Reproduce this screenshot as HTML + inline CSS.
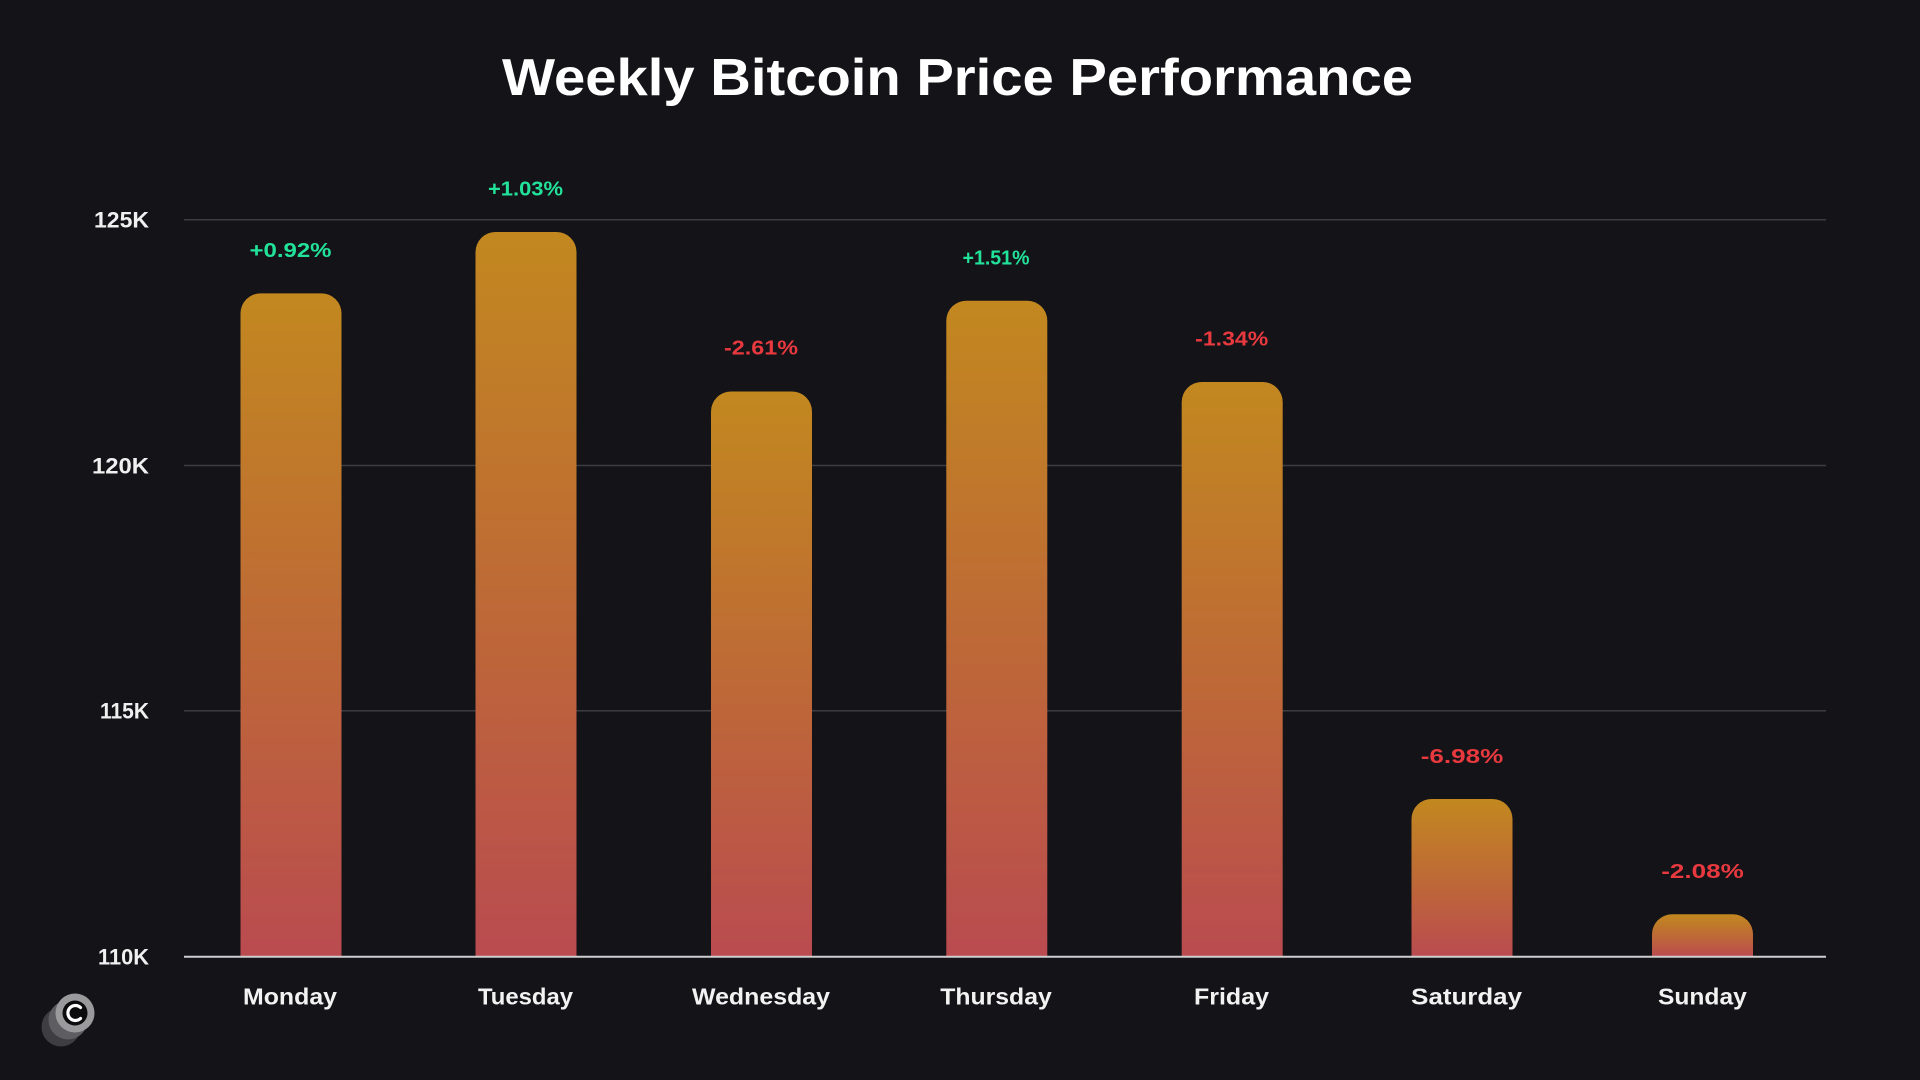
<!DOCTYPE html>
<html>
<head>
<meta charset="utf-8">
<style>
html,body{margin:0;padding:0;background:#131318;}
body{width:1920px;height:1080px;overflow:hidden;}
svg{display:block;}
text{font-family:"Liberation Sans",sans-serif;}
</style>
</head>
<body>
<svg width="1920" height="1080" viewBox="0 0 1920 1080" xmlns="http://www.w3.org/2000/svg">
<defs>
<linearGradient id="g" x1="0" y1="0" x2="0" y2="1">
<stop offset="0" stop-color="#C2881F"/>
<stop offset="0.5" stop-color="#BE6A36"/>
<stop offset="1" stop-color="#BA4B50"/>
</linearGradient>
</defs>
<rect width="1920" height="1080" fill="#131318"/>

<!-- Title -->
<text x="957.5" y="95" font-size="52" font-weight="bold" fill="#ffffff" text-anchor="middle" textLength="911" lengthAdjust="spacingAndGlyphs">Weekly Bitcoin Price Performance</text>

<!-- Grid lines -->
<line x1="184" y1="219.7" x2="1826" y2="219.7" stroke="#3c3c43" stroke-width="1.5"/>
<line x1="184" y1="465.5" x2="1826" y2="465.5" stroke="#3c3c43" stroke-width="1.5"/>
<line x1="184" y1="710.8" x2="1826" y2="710.8" stroke="#3c3c43" stroke-width="1.5"/>

<!-- Y labels -->
<g font-size="22" font-weight="bold" fill="#f0f0f0" text-anchor="end">
<text x="149" y="227.5" textLength="55" lengthAdjust="spacingAndGlyphs">125K</text>
<text x="149" y="473.3" textLength="57" lengthAdjust="spacingAndGlyphs">120K</text>
<text x="149" y="718.5" textLength="49" lengthAdjust="spacingAndGlyphs">115K</text>
<text x="149" y="964.4" textLength="51" lengthAdjust="spacingAndGlyphs">110K</text>
</g>

<!-- Bars -->
<g fill="url(#g)">
<path d="M240.5,956.7 V313.4 A20,20 0 0 1 260.5,293.4 H321.5 A20,20 0 0 1 341.5,313.4 V956.7 Z"/>
<path d="M475.5,956.7 V252 A20,20 0 0 1 495.5,232 H556.5 A20,20 0 0 1 576.5,252 V956.7 Z"/>
<path d="M711,956.7 V411.5 A20,20 0 0 1 731,391.5 H792 A20,20 0 0 1 812,411.5 V956.7 Z"/>
<path d="M946.3,956.7 V320.7 A20,20 0 0 1 966.3,300.7 H1027.3 A20,20 0 0 1 1047.3,320.7 V956.7 Z"/>
<path d="M1181.7,956.7 V402 A20,20 0 0 1 1201.7,382 H1262.7 A20,20 0 0 1 1282.7,402 V956.7 Z"/>
<path d="M1411.5,956.7 V819 A20,20 0 0 1 1431.5,799 H1492.5 A20,20 0 0 1 1512.5,819 V956.7 Z"/>
<path d="M1652,956.7 V934.3 A20,20 0 0 1 1672,914.3 H1733 A20,20 0 0 1 1753,934.3 V956.7 Z"/>
</g>

<!-- Baseline -->
<line x1="184" y1="956.7" x2="1826" y2="956.7" stroke="#cfcfcf" stroke-width="2"/>

<!-- Percent labels -->
<g font-size="20" font-weight="bold" text-anchor="middle">
<text x="290.5" y="257" fill="#22E29A" textLength="82" lengthAdjust="spacingAndGlyphs">+0.92%</text>
<text x="525.5" y="195.6" fill="#22E29A" textLength="75" lengthAdjust="spacingAndGlyphs">+1.03%</text>
<text x="761" y="354.7" fill="#E8393F" textLength="74" lengthAdjust="spacingAndGlyphs">-2.61%</text>
<text x="996" y="264.3" fill="#22E29A" textLength="67" lengthAdjust="spacingAndGlyphs">+1.51%</text>
<text x="1231.7" y="345.7" fill="#E8393F" textLength="73" lengthAdjust="spacingAndGlyphs">-1.34%</text>
<text x="1462" y="763" fill="#E8393F" textLength="82.5" lengthAdjust="spacingAndGlyphs">-6.98%</text>
<text x="1702.5" y="878.2" fill="#E8393F" textLength="82.5" lengthAdjust="spacingAndGlyphs">-2.08%</text>
</g>

<!-- Day labels -->
<g font-size="23" font-weight="bold" fill="#f2f2f2" text-anchor="middle">
<text x="290" y="1004.5" textLength="94" lengthAdjust="spacingAndGlyphs">Monday</text>
<text x="525.5" y="1004.5" textLength="95" lengthAdjust="spacingAndGlyphs">Tuesday</text>
<text x="761" y="1004.5" textLength="138" lengthAdjust="spacingAndGlyphs">Wednesday</text>
<text x="996" y="1004.5" textLength="111.5" lengthAdjust="spacingAndGlyphs">Thursday</text>
<text x="1231.5" y="1004.5" textLength="75" lengthAdjust="spacingAndGlyphs">Friday</text>
<text x="1466.6" y="1004.5" textLength="110.8" lengthAdjust="spacingAndGlyphs">Saturday</text>
<text x="1702.4" y="1004.5" textLength="88.8" lengthAdjust="spacingAndGlyphs">Sunday</text>
</g>

<!-- Logo -->
<g>
<circle cx="61" cy="1027" r="19.5" fill="#3e3e42"/>
<circle cx="68" cy="1020" r="19.5" fill="#5e5e62"/>
<circle cx="75" cy="1013" r="19.5" fill="#9a9a9c"/>
<circle cx="75" cy="1013" r="12.5" fill="#0c0c0e"/>
<path d="M80.5,1007.5 A7.5,7.5 0 1 0 80.5,1018.5" fill="none" stroke="#ffffff" stroke-width="3.2" stroke-linecap="round"/>
</g>
</svg>
</body>
</html>
